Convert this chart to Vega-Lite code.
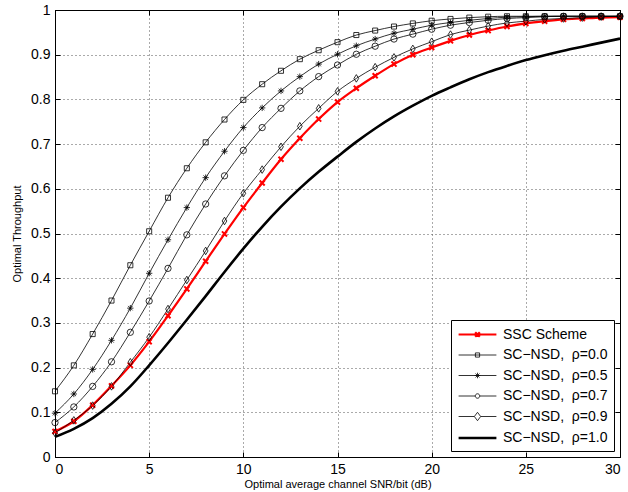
{
  "$schema": "https://vega.github.io/schema/vega-lite/v6.json",
  "width": 565,
  "height": 447,
  "autosize": {"type": "none"},
  "padding": {"left": 55, "top": 10, "right": 8, "bottom": 35},
  "background": "white",
  "config": {
    "font": "Liberation Sans",
    "view": {"stroke": "black", "strokeWidth": 1},
    "axis": {
      "domainColor": "black",
      "domainWidth": 1,
      "tickColor": "black",
      "tickWidth": 1,
      "tickSize": -5,
      "labelFont": "Liberation Sans",
      "labelFontSize": 14,
      "labelColor": "black",
      "titleFont": "Liberation Sans",
      "titleFontSize": 11,
      "titleFontWeight": "normal",
      "titleColor": "black",
      "gridColor": "#555555",
      "gridDash": [1, 3],
      "gridWidth": 1,
      "gridOpacity": 1
    }
  },
  "data": {
    "values": [
      {"s": "SSC", "x": 0, "y": 0.057}, {"s": "SSC", "x": 1, "y": 0.080}, {"s": "SSC", "x": 2, "y": 0.116}, {"s": "SSC", "x": 3, "y": 0.159}, {"s": "SSC", "x": 4, "y": 0.205}, {"s": "SSC", "x": 5, "y": 0.258}, {"s": "SSC", "x": 6, "y": 0.316}, {"s": "SSC", "x": 7, "y": 0.376}, {"s": "SSC", "x": 8, "y": 0.438}, {"s": "SSC", "x": 9, "y": 0.499}, {"s": "SSC", "x": 10, "y": 0.558}, {"s": "SSC", "x": 11, "y": 0.613}, {"s": "SSC", "x": 12, "y": 0.666}, {"s": "SSC", "x": 13, "y": 0.713}, {"s": "SSC", "x": 14, "y": 0.756}, {"s": "SSC", "x": 15, "y": 0.794}, {"s": "SSC", "x": 16, "y": 0.825}, {"s": "SSC", "x": 17, "y": 0.853}, {"s": "SSC", "x": 18, "y": 0.879}, {"s": "SSC", "x": 19, "y": 0.900}, {"s": "SSC", "x": 20, "y": 0.916}, {"s": "SSC", "x": 21, "y": 0.931}, {"s": "SSC", "x": 22, "y": 0.944}, {"s": "SSC", "x": 23, "y": 0.954}, {"s": "SSC", "x": 24, "y": 0.963}, {"s": "SSC", "x": 25, "y": 0.970}, {"s": "SSC", "x": 26, "y": 0.975}, {"s": "SSC", "x": 27, "y": 0.979}, {"s": "SSC", "x": 28, "y": 0.981}, {"s": "SSC", "x": 29, "y": 0.983}, {"s": "SSC", "x": 30, "y": 0.984},
      {"s": "0.0", "x": 0, "y": 0.147}, {"s": "0.0", "x": 1, "y": 0.205}, {"s": "0.0", "x": 2, "y": 0.275}, {"s": "0.0", "x": 3, "y": 0.350}, {"s": "0.0", "x": 4, "y": 0.429}, {"s": "0.0", "x": 5, "y": 0.505}, {"s": "0.0", "x": 6, "y": 0.580}, {"s": "0.0", "x": 7, "y": 0.646}, {"s": "0.0", "x": 8, "y": 0.704}, {"s": "0.0", "x": 9, "y": 0.755}, {"s": "0.0", "x": 10, "y": 0.799}, {"s": "0.0", "x": 11, "y": 0.834}, {"s": "0.0", "x": 12, "y": 0.864}, {"s": "0.0", "x": 13, "y": 0.890}, {"s": "0.0", "x": 14, "y": 0.910}, {"s": "0.0", "x": 15, "y": 0.928}, {"s": "0.0", "x": 16, "y": 0.944}, {"s": "0.0", "x": 17, "y": 0.954}, {"s": "0.0", "x": 18, "y": 0.963}, {"s": "0.0", "x": 19, "y": 0.970}, {"s": "0.0", "x": 20, "y": 0.976}, {"s": "0.0", "x": 21, "y": 0.980}, {"s": "0.0", "x": 22, "y": 0.983}, {"s": "0.0", "x": 23, "y": 0.985}, {"s": "0.0", "x": 24, "y": 0.986}, {"s": "0.0", "x": 25, "y": 0.986}, {"s": "0.0", "x": 26, "y": 0.986}, {"s": "0.0", "x": 27, "y": 0.986}, {"s": "0.0", "x": 28, "y": 0.986}, {"s": "0.0", "x": 29, "y": 0.986}, {"s": "0.0", "x": 30, "y": 0.986},
      {"s": "0.5", "x": 0, "y": 0.098}, {"s": "0.5", "x": 1, "y": 0.141}, {"s": "0.5", "x": 2, "y": 0.196}, {"s": "0.5", "x": 3, "y": 0.261}, {"s": "0.5", "x": 4, "y": 0.333}, {"s": "0.5", "x": 5, "y": 0.411}, {"s": "0.5", "x": 6, "y": 0.486}, {"s": "0.5", "x": 7, "y": 0.558}, {"s": "0.5", "x": 8, "y": 0.625}, {"s": "0.5", "x": 9, "y": 0.684}, {"s": "0.5", "x": 10, "y": 0.737}, {"s": "0.5", "x": 11, "y": 0.781}, {"s": "0.5", "x": 12, "y": 0.819}, {"s": "0.5", "x": 13, "y": 0.851}, {"s": "0.5", "x": 14, "y": 0.879}, {"s": "0.5", "x": 15, "y": 0.901}, {"s": "0.5", "x": 16, "y": 0.920}, {"s": "0.5", "x": 17, "y": 0.935}, {"s": "0.5", "x": 18, "y": 0.948}, {"s": "0.5", "x": 19, "y": 0.957}, {"s": "0.5", "x": 20, "y": 0.966}, {"s": "0.5", "x": 21, "y": 0.972}, {"s": "0.5", "x": 22, "y": 0.977}, {"s": "0.5", "x": 23, "y": 0.981}, {"s": "0.5", "x": 24, "y": 0.984}, {"s": "0.5", "x": 25, "y": 0.985}, {"s": "0.5", "x": 26, "y": 0.986}, {"s": "0.5", "x": 27, "y": 0.986}, {"s": "0.5", "x": 28, "y": 0.986}, {"s": "0.5", "x": 29, "y": 0.986}, {"s": "0.5", "x": 30, "y": 0.986},
      {"s": "0.7", "x": 0, "y": 0.077}, {"s": "0.7", "x": 1, "y": 0.112}, {"s": "0.7", "x": 2, "y": 0.158}, {"s": "0.7", "x": 3, "y": 0.213}, {"s": "0.7", "x": 4, "y": 0.279}, {"s": "0.7", "x": 5, "y": 0.349}, {"s": "0.7", "x": 6, "y": 0.422}, {"s": "0.7", "x": 7, "y": 0.497}, {"s": "0.7", "x": 8, "y": 0.566}, {"s": "0.7", "x": 9, "y": 0.629}, {"s": "0.7", "x": 10, "y": 0.686}, {"s": "0.7", "x": 11, "y": 0.737}, {"s": "0.7", "x": 12, "y": 0.780}, {"s": "0.7", "x": 13, "y": 0.819}, {"s": "0.7", "x": 14, "y": 0.851}, {"s": "0.7", "x": 15, "y": 0.877}, {"s": "0.7", "x": 16, "y": 0.901}, {"s": "0.7", "x": 17, "y": 0.919}, {"s": "0.7", "x": 18, "y": 0.935}, {"s": "0.7", "x": 19, "y": 0.946}, {"s": "0.7", "x": 20, "y": 0.957}, {"s": "0.7", "x": 21, "y": 0.966}, {"s": "0.7", "x": 22, "y": 0.972}, {"s": "0.7", "x": 23, "y": 0.977}, {"s": "0.7", "x": 24, "y": 0.981}, {"s": "0.7", "x": 25, "y": 0.983}, {"s": "0.7", "x": 26, "y": 0.985}, {"s": "0.7", "x": 27, "y": 0.986}, {"s": "0.7", "x": 28, "y": 0.986}, {"s": "0.7", "x": 29, "y": 0.986}, {"s": "0.7", "x": 30, "y": 0.986},
      {"s": "0.9", "x": 0, "y": 0.054}, {"s": "0.9", "x": 1, "y": 0.082}, {"s": "0.9", "x": 2, "y": 0.115}, {"s": "0.9", "x": 3, "y": 0.158}, {"s": "0.9", "x": 4, "y": 0.212}, {"s": "0.9", "x": 5, "y": 0.268}, {"s": "0.9", "x": 6, "y": 0.331}, {"s": "0.9", "x": 7, "y": 0.396}, {"s": "0.9", "x": 8, "y": 0.461}, {"s": "0.9", "x": 9, "y": 0.528}, {"s": "0.9", "x": 10, "y": 0.590}, {"s": "0.9", "x": 11, "y": 0.643}, {"s": "0.9", "x": 12, "y": 0.694}, {"s": "0.9", "x": 13, "y": 0.740}, {"s": "0.9", "x": 14, "y": 0.780}, {"s": "0.9", "x": 15, "y": 0.818}, {"s": "0.9", "x": 16, "y": 0.847}, {"s": "0.9", "x": 17, "y": 0.872}, {"s": "0.9", "x": 18, "y": 0.894}, {"s": "0.9", "x": 19, "y": 0.913}, {"s": "0.9", "x": 20, "y": 0.929}, {"s": "0.9", "x": 21, "y": 0.945}, {"s": "0.9", "x": 22, "y": 0.955}, {"s": "0.9", "x": 23, "y": 0.964}, {"s": "0.9", "x": 24, "y": 0.971}, {"s": "0.9", "x": 25, "y": 0.975}, {"s": "0.9", "x": 26, "y": 0.979}, {"s": "0.9", "x": 27, "y": 0.981}, {"s": "0.9", "x": 28, "y": 0.983}, {"s": "0.9", "x": 29, "y": 0.985}, {"s": "0.9", "x": 30, "y": 0.986},
      {"s": "1.0", "x": 0, "y": 0.045}, {"s": "1.0", "x": 1, "y": 0.063}, {"s": "1.0", "x": 2, "y": 0.087}, {"s": "1.0", "x": 3, "y": 0.119}, {"s": "1.0", "x": 4, "y": 0.158}, {"s": "1.0", "x": 5, "y": 0.205}, {"s": "1.0", "x": 6, "y": 0.255}, {"s": "1.0", "x": 7, "y": 0.307}, {"s": "1.0", "x": 8, "y": 0.360}, {"s": "1.0", "x": 9, "y": 0.414}, {"s": "1.0", "x": 10, "y": 0.466}, {"s": "1.0", "x": 11, "y": 0.515}, {"s": "1.0", "x": 12, "y": 0.560}, {"s": "1.0", "x": 13, "y": 0.601}, {"s": "1.0", "x": 14, "y": 0.638}, {"s": "1.0", "x": 15, "y": 0.672}, {"s": "1.0", "x": 16, "y": 0.705}, {"s": "1.0", "x": 17, "y": 0.735}, {"s": "1.0", "x": 18, "y": 0.762}, {"s": "1.0", "x": 19, "y": 0.786}, {"s": "1.0", "x": 20, "y": 0.808}, {"s": "1.0", "x": 21, "y": 0.827}, {"s": "1.0", "x": 22, "y": 0.845}, {"s": "1.0", "x": 23, "y": 0.861}, {"s": "1.0", "x": 24, "y": 0.875}, {"s": "1.0", "x": 25, "y": 0.888}, {"s": "1.0", "x": 26, "y": 0.899}, {"s": "1.0", "x": 27, "y": 0.909}, {"s": "1.0", "x": 28, "y": 0.918}, {"s": "1.0", "x": 29, "y": 0.927}, {"s": "1.0", "x": 30, "y": 0.936}
    ]
  },
  "resolve": {"axis": {"x": "independent", "y": "independent"}},
  "layer": [
    {
      "mark": {"type": "line", "interpolate": "monotone"},
      "encoding": {
        "x": {
          "field": "x", "type": "quantitative",
          "scale": {"domain": [0, 30], "nice": false, "zero": false},
          "axis": {"orient": "bottom", "values": [0, 5, 10, 15, 20, 25, 30], "grid": true, "labelPadding": 10, "title": "Optimal average channel SNR/bit (dB)", "titlePadding": 2}
        },
        "y": {
          "field": "y", "type": "quantitative",
          "scale": {"domain": [0, 1], "nice": false, "zero": false},
          "axis": {"orient": "left", "values": [0, 0.1, 0.2, 0.3, 0.4, 0.5, 0.6, 0.7, 0.8, 0.9, 1], "format": ".1~f", "grid": true, "labelPadding": 10, "title": "Optimal Throughput", "titlePadding": 8}
        },
        "color": {
          "field": "s", "type": "nominal",
          "scale": {"domain": ["SSC", "0.0", "0.5", "0.7", "0.9", "1.0"], "range": ["#ff0000", "#000000", "#000000", "#000000", "#000000", "#000000"]},
          "legend": {
            "title": null,
            "orient": "bottom-right",
            "offset": 6,
            "fillColor": "white",
            "strokeColor": "black",
            "padding": 6,
            "cornerRadius": 0,
            "labelFont": "Liberation Sans",
            "labelFontSize": 14,
            "labelColor": "black",
            "labelOffset": 17,
            "symbolSize": 196,
            "symbolOffset": 12,
            "rowPadding": 5.5,
            "labelExpr": "datum.label == 'SSC' ? 'SSC Scheme' : 'SC−NSD,\u00a0\u00a0ρ=' + datum.label",
            "encode": {
              "symbols": {
                "update": {
                  "fill": {"value": "transparent"},
                  "shape": {"signal": "datum.value == 'SSC' ? 'M-2.7,0H2.7M-0.33,-0.33L0.33,0.33M-0.33,0.33L0.33,-0.33' : datum.value == '0.0' ? 'M-2.7,0H2.7M-0.3,-0.3H0.3V0.3H-0.3Z' : datum.value == '0.5' ? 'M-2.7,0H2.7M-0.4,0H0.4M0,-0.4V0.4M-0.28,-0.28L0.28,0.28M-0.28,0.28L0.28,-0.28' : datum.value == '0.7' ? 'M-2.7,0H-0.32M0.32,0H2.7M0.32,0A0.32,0.32,0,1,1,-0.32,0A0.32,0.32,0,1,1,0.32,0' : datum.value == '0.9' ? 'M-2.7,0H-0.45M0.45,0H2.7M0,-0.6L0.45,0L0,0.6L-0.45,0Z' : 'M-2.7,0H2.7'"},
                  "strokeWidth": {"signal": "datum.value == 'SSC' ? 2.4 : datum.value == '1.0' ? 2.6 : 0.8"}
                }
              }
            }
          }
        },
        "strokeWidth": {
          "field": "s", "type": "nominal",
          "scale": {"type": "ordinal", "domain": ["SSC", "0.0", "0.5", "0.7", "0.9", "1.0"], "range": [2.2, 0.8, 0.8, 0.8, 0.8, 2.6]},
          "legend": null
        }
      }
    },
    {
      "transform": [{"filter": "datum.s != '1.0'"}],
      "mark": {"type": "point", "filled": false, "size": 40, "opacity": 1},
      "encoding": {
        "x": {
          "field": "x", "type": "quantitative",
          "scale": {"domain": [0, 30], "nice": false, "zero": false},
          "axis": {"orient": "top", "values": [0, 5, 10, 15, 20, 25, 30], "grid": false, "labels": false, "title": null}
        },
        "y": {
          "field": "y", "type": "quantitative",
          "scale": {"domain": [0, 1], "nice": false, "zero": false},
          "axis": {"orient": "right", "values": [0, 0.1, 0.2, 0.3, 0.4, 0.5, 0.6, 0.7, 0.8, 0.9, 1], "grid": false, "labels": false, "title": null}
        },
        "color": {"field": "s", "type": "nominal", "legend": null},
        "strokeWidth": {"condition": {"test": "datum.s == 'SSC'", "value": 2}, "value": 0.8},
        "shape": {
          "field": "s", "type": "nominal",
          "scale": {"domain": ["SSC", "0.0", "0.5", "0.7", "0.9"], "range": ["M-0.8,-0.8L0.8,0.8M-0.8,0.8L0.8,-0.8", "M-0.8,-0.8H0.8V0.8H-0.8Z", "M-1,0H1M0,-1V1M-0.7,-0.7L0.7,0.7M-0.7,0.7L0.7,-0.7", "circle", "M0,-1.2L0.75,0L0,1.2L-0.75,0Z"]},
          "legend": null
        }
      }
    }
  ]
}
